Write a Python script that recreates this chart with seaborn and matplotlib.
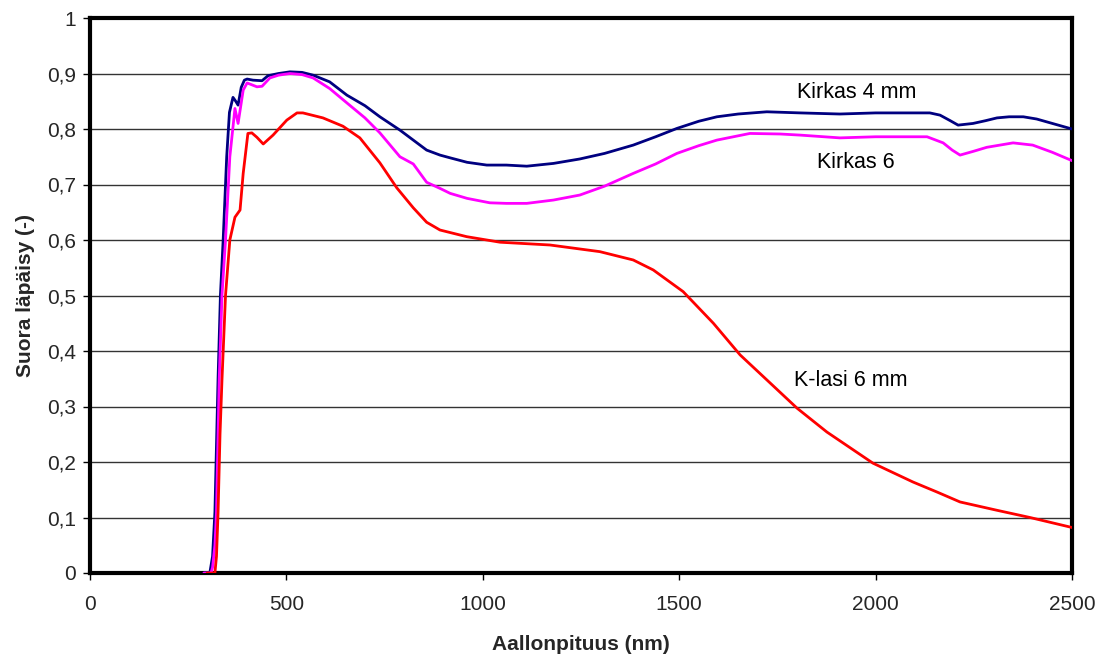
import matplotlib
matplotlib.use("Agg")
import matplotlib.pyplot as plt
import seaborn as sns
import pandas as pd
from matplotlib.ticker import FixedLocator, FuncFormatter

# Kirkas 4 mm
wl_k4 = [290, 305, 312, 318, 326, 332, 339, 348, 355, 364, 371, 377, 385, 393, 400,
         415, 438, 453, 480, 509, 540, 568, 610, 654, 700, 738, 789, 823, 857, 891,
         917, 960, 1010, 1060, 1112, 1180, 1247, 1310, 1383, 1440, 1494, 1550, 1596,
         1650, 1723, 1808, 1909, 2000, 2080, 2138, 2164, 2190, 2210, 2248, 2280, 2309,
         2340, 2376, 2410, 2450, 2500]
t_k4 = [0, 0, 0.03, 0.11, 0.35, 0.50, 0.60, 0.75, 0.83, 0.857, 0.850, 0.843, 0.875, 0.888, 0.890,
        0.888, 0.887, 0.896, 0.900, 0.903, 0.902, 0.897, 0.885, 0.861, 0.842, 0.822, 0.798, 0.780, 0.762, 0.753,
        0.748, 0.740, 0.735, 0.735, 0.733, 0.738, 0.746, 0.756, 0.771, 0.786, 0.801, 0.814, 0.822,
        0.827, 0.831, 0.829, 0.827, 0.829, 0.829, 0.829, 0.825, 0.815, 0.807, 0.810, 0.815, 0.820,
        0.822, 0.822, 0.818, 0.810, 0.800]

# Kirkas 6
wl_k6 = [290, 308, 312, 318, 322, 329, 336, 345, 356, 369, 377, 390, 400, 425, 438,
         458, 480, 509, 540, 568, 610, 654, 700, 738, 789, 823, 857, 891, 917, 960,
         1018, 1060, 1112, 1180, 1247, 1310, 1383, 1440, 1494, 1550, 1596, 1680, 1757,
         1808, 1909, 2000, 2131, 2172, 2195, 2215, 2250, 2283, 2350, 2400, 2450, 2500]
t_k6 = [0, 0, 0.01, 0.05, 0.11, 0.35, 0.50, 0.60, 0.75, 0.837, 0.810, 0.870, 0.883, 0.876, 0.877,
        0.892, 0.897, 0.900, 0.898, 0.892, 0.873, 0.847, 0.820, 0.793, 0.750, 0.737, 0.704, 0.693, 0.684, 0.675,
        0.667, 0.666, 0.666, 0.672, 0.681, 0.697, 0.720, 0.737, 0.756, 0.770, 0.780, 0.792, 0.791,
        0.789, 0.784, 0.786, 0.786, 0.775, 0.762, 0.753, 0.760, 0.767, 0.775, 0.771, 0.758, 0.743]

# K-lasi 6 mm
wl_kl = [298, 318, 322, 326, 331, 336, 345, 356, 369, 382, 390, 402, 412, 425, 441,
         466, 501, 527, 542, 593, 644, 687, 738, 781, 823, 857, 891, 959, 1044, 1171,
         1298, 1383, 1434, 1510, 1587, 1655, 1723, 1800, 1876, 1993, 2095, 2156, 2215,
         2309, 2393, 2500]
t_kl = [0, 0, 0.03, 0.108, 0.25, 0.348, 0.50, 0.60, 0.641, 0.654, 0.720, 0.792, 0.793, 0.785, 0.773,
        0.789, 0.816, 0.829, 0.829, 0.820, 0.805, 0.784, 0.739, 0.694, 0.658, 0.632, 0.618, 0.606, 0.596, 0.591,
        0.579, 0.564, 0.546, 0.507, 0.450, 0.393, 0.348, 0.297, 0.254, 0.198, 0.164, 0.146, 0.128,
        0.113, 0.100, 0.082]

series_names = ["Kirkas 4 mm", "Kirkas 6", "K-lasi 6 mm"]
series_colors = ["#000080", "#FF00FF", "#FF0000"]
label_pos = [(1953, 0.865), (1950, 0.739), (1937, 0.346)]

x_ticks = [0, 500, 1000, 1500, 2000, 2500]
y_ticks = [0, 0.1, 0.2, 0.3, 0.4, 0.5, 0.6, 0.7, 0.8, 0.9, 1.0]

frames = []
for name, wl, t in zip(series_names, [wl_k4, wl_k6, wl_kl], [t_k4, t_k6, t_kl]):
    frames.append(pd.DataFrame({"wl": wl, "t": t, "sarja": name}))
df = pd.concat(frames, ignore_index=True)

sns.set_style("white")
plt.rcParams["font.family"] = ["Liberation Sans", "DejaVu Sans"]

fig = plt.figure(figsize=(11.01, 6.55), dpi=100)
ax = fig.add_axes([90 / 1101, 82 / 655, 982 / 1101, 555 / 655])

for y in y_ticks[1:-1]:
    ax.axhline(y, color="#333333", lw=1.0, zorder=1)

sns.lineplot(data=df, x="wl", y="t", hue="sarja", hue_order=series_names,
             palette=series_colors, estimator=None, sort=False, lw=2.0,
             legend=False, ax=ax, zorder=3)

for name, (lx, ly) in zip(series_names, label_pos):
    ax.text(lx, ly, name, fontsize=15.5, ha="center", va="center", color="black")

ax.set_xlim(0, 2500)
ax.set_ylim(0, 1)
ax.xaxis.set_major_locator(FixedLocator(x_ticks))
ax.yaxis.set_major_locator(FixedLocator(y_ticks))
ax.yaxis.set_major_formatter(FuncFormatter(lambda v, p: f"{v:g}".replace(".", ",")))
ax.tick_params(axis="both", direction="out", length=5, width=1, color="black",
               labelsize=15, pad=5, left=True, bottom=True)
ax.tick_params(axis="x", pad=11)

for s in ax.spines.values():
    s.set_color("black")
    s.set_linewidth(3)

ax.set_xlabel("Aallonpituus (nm)", fontsize=15, fontweight="bold", labelpad=15)
ax.set_ylabel("Suora läpäisy (-)", fontsize=15, fontweight="bold", labelpad=9)

fig.savefig("out.png", dpi=100, facecolor="white")
